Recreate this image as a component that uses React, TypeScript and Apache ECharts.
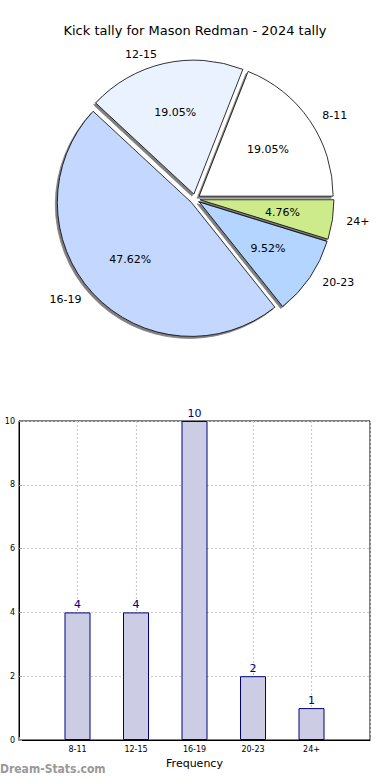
import React, { useEffect, useRef } from "react";
import * as echarts from "echarts";

const title = "Kick tally for Mason Redman - 2024 tally";
const categories = ["8-11", "12-15", "16-19", "20-23", "24+"];
const kicks = [4, 4, 10, 2, 1];
const yTicks = [0, 2, 4, 6, 8, 10];
const xAxisName = "Frequency";
const yAxisName = "Kick Tally";
const watermark = "Dream-Stats.com";

const sliceColors = ["#ffffff", "#ebf2ff", "#c4d8ff", "#b3d5ff", "#ceeb8b"];

const FONT = "'DejaVu Sans', sans-serif";
const R = 134;
const CX = 195;
const CY = 199;

export default function App() {
  const ref = useRef<HTMLDivElement>(null);
  useEffect(() => {
    document.body.style.margin = "0";
    if (!ref.current) return;
    const chart = echarts.init(ref.current, undefined, { renderer: "svg" });
    const sliceStyle = {
      borderColor: "#000",
      borderWidth: 0.8,
      shadowColor: "rgba(0,0,0,0.5)",
      shadowOffsetX: -2,
      shadowOffsetY: 2,
      shadowBlur: 1,
    };
    const pieData = categories.map((name, i) => ({
      name,
      value: kicks[i],
      selected: true,
      itemStyle: { color: sliceColors[i] },
    }));
    chart.setOption({
      animation: false,
      textStyle: { fontFamily: FONT },
      title: {
        text: title,
        left: "center",
        top: 19,
        textStyle: { fontSize: 13, fontWeight: "normal", color: "#000", fontFamily: FONT },
      },
      grid: {
        left: 19,
        right: 20,
        top: 421,
        bottom: 40,
        containLabel: false,
        outerBoundsMode: "none",
        show: true,
        borderColor: "#000",
        borderWidth: 1,
        backgroundColor: "transparent",
      },
      xAxis: {
        type: "value",
        min: 0,
        max: categories.length + 1,
        interval: 1,
        name: xAxisName,
        nameLocation: "middle",
        nameGap: 18,
        nameTextStyle: { fontSize: 11, color: "#000", fontFamily: FONT },
        axisLine: { lineStyle: { color: "#000" } },
        axisTick: { show: true, inside: true, length: 3, lineStyle: { color: "#999" } },
        axisLabel: {
          fontSize: 8,
          color: "#000",
          margin: 5,
          formatter: (v: number) => categories[v - 1] ?? "",
        },
        splitLine: { show: true, lineStyle: { color: "#c8c8c8", type: [2, 2], width: 1.2 } },
      },
      yAxis: {
        type: "value",
        min: yTicks[0],
        max: yTicks[yTicks.length - 1],
        interval: yTicks[1] - yTicks[0],
        name: yAxisName,
        nameLocation: "middle",
        nameGap: 19,
        nameTextStyle: { fontSize: 11, color: "#000", fontFamily: FONT },
        axisLine: { lineStyle: { color: "#000" } },
        axisTick: { show: true, inside: true, length: 3, lineStyle: { color: "#999" } },
        axisLabel: { fontSize: 8, color: "#000", margin: 4 },
        splitLine: { show: true, lineStyle: { color: "#c8c8c8", type: [2, 2], width: 1.2 } },
      },
      graphic: [
        {
          type: "text",
          left: 0,
          top: 763,
          style: {
            text: watermark,
            fontSize: 12,
            fill: "#999999",
            fontFamily: "'DejaVu Sans Condensed', 'DejaVu Sans', sans-serif",
            fontWeight: "bold",
          },
        },
      ],
      series: [
        {
          type: "pie",
          center: [CX, CY],
          radius: [0, R],
          startAngle: 0,
          clockwise: false,
          selectedMode: "multiple",
          selectedOffset: 5,
          avoidLabelOverlap: false,
          silent: true,
          data: pieData,
          itemStyle: sliceStyle,
          select: { itemStyle: sliceStyle },
          label: {
            show: true,
            position: "outside",
            formatter: "{b}",
            fontSize: 11,
            color: "#000",
            fontFamily: FONT,
            distanceToLabelLine: 5,
          },
          labelLine: { show: false, length: 9, length2: 0 },
        },
        {
          type: "pie",
          center: [CX, CY],
          radius: [R * 0.2, R],
          startAngle: 0,
          clockwise: false,
          selectedMode: "multiple",
          selectedOffset: 5,
          avoidLabelOverlap: false,
          silent: true,
          z: 5,
          data: categories.map((name, i) => ({ name, value: kicks[i], selected: true })),
          itemStyle: { color: "rgba(0,0,0,0)", borderWidth: 0 },
          select: { itemStyle: { color: "rgba(0,0,0,0)", borderWidth: 0 } },
          label: {
            show: true,
            position: "inside",
            formatter: "{d}%",
            fontSize: 11,
            color: "#000",
            fontFamily: FONT,
          },
          labelLine: { show: false },
        },
        {
          type: "bar",
          data: categories.map((_, i) => [i + 1, kicks[i]]),
          barWidth: 26,
          itemStyle: { color: "#ccccE5", borderColor: "#000080", borderWidth: 1 },
          label: { show: true, position: "top", color: "#000080", fontSize: 11, distance: 2, fontFamily: FONT },
        },
      ],
    });
    return () => chart.dispose();
  }, []);
  return <div ref={ref} style={{ width: 390, height: 780 }} />;
}
